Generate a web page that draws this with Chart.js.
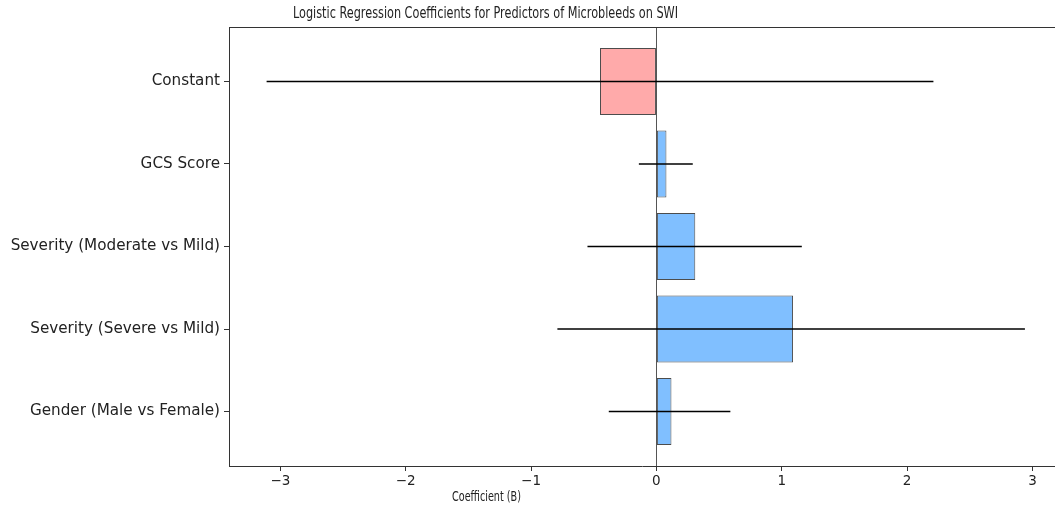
<!DOCTYPE html>
<html>
<head>
<meta charset="utf-8">
<script src="https://cdn.jsdelivr.net/npm/chart.js@4/dist/chart.umd.min.js"></script>
<style>
  html, body { margin: 0; padding: 0; background: #fff; }
  #wrap { width: 1055px; height: 505px; position: relative; }
</style>
</head>
<body>
<div id="wrap"><canvas id="coefChart"></canvas></div>
<script>
// predictors, top to bottom
const predictors = [
  "Constant",
  "GCS Score",
  "Severity (Moderate vs Mild)",
  "Severity (Severe vs Mild)",
  "Gender (Male vs Female)"
];
// coefficient (B) and its interval
const coefB  = [-0.45, 0.08, 0.31, 1.09, 0.12];
const ciLow  = [-3.11, -0.14, -0.55, -0.79, -0.38];
const ciHigh = [ 2.21,  0.29,  1.16,  2.94,  0.59];
const xTicks = [-3, -2, -1, 0, 1, 2, 3];

const titleText = "Logistic Regression Coefficients for Predictors of Microbleeds on SWI";
const xLabelText = "Coefficient (B)";

const blue = "#80bfff";
const pink = "#ffaaaa";

// squeeze text to a given width (the reference title/xlabel are narrow)
function drawFitted(ctx, text, font, cx, cy, width) {
  ctx.save();
  ctx.font = font;
  const w = ctx.measureText(text).width;
  ctx.translate(cx, cy);
  ctx.scale(width / w, 1);
  ctx.textAlign = "center";
  ctx.textBaseline = "middle";
  ctx.fillStyle = "#222";
  ctx.fillText(text, 0, 0);
  ctx.restore();
}

const extras = {
  id: "extras",
  afterDatasetsDraw(chart) {
    const { ctx, chartArea, scales } = chart;
    const xs = scales.x, ys = scales.y;

    // zero reference line
    const x0 = xs.getPixelForValue(0);
    ctx.save();
    ctx.strokeStyle = "#555";
    ctx.lineWidth = 1;
    ctx.beginPath();
    ctx.moveTo(Math.round(x0) + 0.5, chartArea.top);
    ctx.lineTo(Math.round(x0) + 0.5, chartArea.bottom);
    ctx.stroke();

    // error bars
    ctx.strokeStyle = "#000";
    ctx.lineWidth = 1.6;
    predictors.forEach((p, i) => {
      const y = ys.getPixelForValue(i);
      ctx.beginPath();
      ctx.moveTo(xs.getPixelForValue(ciLow[i]), y);
      ctx.lineTo(xs.getPixelForValue(ciHigh[i]), y);
      ctx.stroke();
    });

    // top spine
    ctx.strokeStyle = "#333";
    ctx.lineWidth = 1;
    ctx.beginPath();
    ctx.moveTo(chartArea.left, chartArea.top + 0.5);
    ctx.lineTo(chartArea.right, chartArea.top + 0.5);
    ctx.stroke();
    ctx.restore();
  },
  afterDraw(chart) {
    const { ctx } = chart;
    drawFitted(ctx, titleText, "16px 'DejaVu Sans'", 485.5, 14, 385);
    drawFitted(ctx, xLabelText, "14px 'DejaVu Sans'", 486.5, 497, 69);
  }
};

const ctx = document.getElementById("coefChart").getContext("2d");
new Chart(ctx, {
  type: "bar",
  data: {
    datasets: [{
      data: coefB.map((v, i) => ({ x: v, y: i })),
      backgroundColor: coefB.map(v => v < 0 ? pink : blue),
      borderColor: "rgba(0,0,0,0.7)",
      borderWidth: 1,
      borderSkipped: false,
      barPercentage: 0.81,
      categoryPercentage: 1
    }]
  },
  options: {
    indexAxis: "y",
    responsive: true,
    maintainAspectRatio: false,
    animation: false,
    layout: { padding: { top: 27, right: 0, bottom: 0, left: 0 } },
    plugins: {
      legend: { display: false },
      title: { display: false },
      tooltip: { enabled: false }
    },
    scales: {
      x: {
        type: "linear",
        min: -3.41,
        max: 3.18,
        afterBuildTicks: scale => { scale.ticks = xTicks.map(v => ({ value: v })); },
        afterFit: scale => { scale.height = 39; },
        grid: { drawOnChartArea: false, drawTicks: true, tickLength: 5, color: "#333" },
        border: { display: true, color: "#333", width: 1 },
        ticks: {
          padding: 2,
          color: "#222",
          font: { family: "DejaVu Sans", size: 13.5 },
          maxRotation: 0,
          callback: v => (v < 0 ? "\u2212" + Math.abs(v) : String(v))
        }
      },
      y: {
        type: "linear",
        reverse: true,
        offset: false,
        min: -0.66,
        max: 4.66,
        afterBuildTicks: scale => { scale.ticks = predictors.map((p, i) => ({ value: i })); },
        afterFit: scale => { scale.width = 229; },
        grid: { offset: false, drawOnChartArea: false, drawTicks: true, tickLength: 5, color: "#333" },
        border: { display: true, color: "#333", width: 1 },
        ticks: {
          padding: 4,
          color: "#222",
          font: { family: "DejaVu Sans", size: 15.2 },
          callback: v => predictors[v]
        }
      }
    }
  },
  plugins: [extras]
});
</script>
</body>
</html>
